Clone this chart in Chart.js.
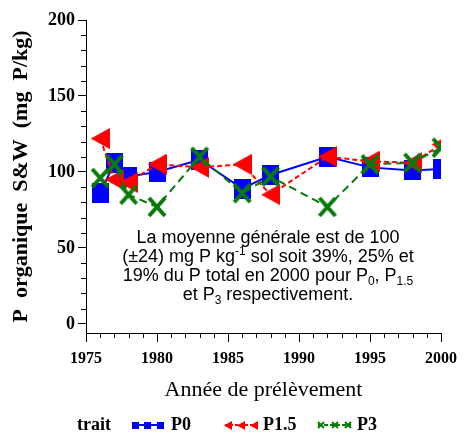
<!DOCTYPE html>
<html>
<head>
<meta charset="utf-8">
<script src="https://cdn.jsdelivr.net/npm/chart.js@4.4.0/dist/chart.umd.min.js"></script>
<style>
  html, body { margin: 0; padding: 0; background: #fff; }
  #wrap { width: 464px; height: 435px; }
</style>
</head>
<body>
<div id="wrap"><canvas id="myChart"></canvas></div>
<script>
// data
var years = [1976, 1977, 1978, 1980, 1983, 1986, 1988, 1992, 1995, 1998, 2000];
var p0  = [86, 106, 97, 100, 108, 89, 98, 110, 103, 101, 102];
var p15 = [122, 95, 93, 105, 103, 105, 85, 110, 107, 106, 118];
var p3  = [96, 105, 85, 77, 110, 86, 97, 77, 105, 106, 116];
var xTicks = [1975, 1980, 1985, 1990, 1995, 2000];
var yTicks = [0, 50, 100, 150, 200];
var xMinorStep = 1;
var yMinorStep = 10;

var serif = '"Liberation Serif", "Times New Roman", serif';
var sans = '"Liberation Sans", Arial, sans-serif';

function makeCanvas(w, h, draw) {
  var c = document.createElement('canvas');
  c.width = w; c.height = h;
  draw(c.getContext('2d'), w, h);
  return c;
}
function square(w, h, color) {
  return makeCanvas(w, h, function (g) { g.fillStyle = color; g.fillRect(0, 0, w, h); });
}
function triLeft(w, h, color) {
  return makeCanvas(w, h, function (g) {
    g.fillStyle = color;
    g.beginPath(); g.moveTo(0, h / 2); g.lineTo(w, 0); g.lineTo(w, h); g.closePath(); g.fill();
  });
}
function cross(w, h, color, lw) {
  return makeCanvas(w, h, function (g) {
    g.strokeStyle = color; g.lineWidth = lw; g.lineCap = 'butt';
    var m = lw / 2;
    g.beginPath();
    g.moveTo(m, m); g.lineTo(w - m, h - m);
    g.moveTo(w - m, m); g.lineTo(m, h - m);
    g.stroke();
  });
}

var blue = '#0000ff', red = '#ff0000', green = '#087a08';
var mkBlue = square(17, 20, blue);
var mkRed = triLeft(19, 21, red);
var mkGreen = cross(20, 22, green, 4);
var lgBlue = square(7, 7, blue);
var lgRed = triLeft(8, 9, red);
var lgGreen = cross(8, 8, green, 2);

function pts(vals) {
  return years.map(function (y, i) { return { x: y, y: vals[i] }; });
}

// note text, with sub/superscripts
var noteLines = [
  [['La moyenne générale est de 100', 0]],
  [['(±24) mg P kg', 0], ['-1', 1], [' sol soit 39%, 25% et', 0]],
  [['19% du P total en 2000 pour P', 0], ['0', -1], [', P', 0], ['1.5', -1]],
  [['et P', 0], ['3', -1], [' respectivement.', 0]]
];

var extras = {
  id: 'extras',
  afterDraw: function (chart) {
    var ctx = chart.ctx, xs = chart.scales.x, ys = chart.scales.y, area = chart.chartArea;
    ctx.save();
    ctx.strokeStyle = '#000';
    ctx.lineWidth = 1;
    var v, p;
    for (v = xTicks[0]; v <= xTicks[xTicks.length - 1]; v += xMinorStep) {
      if (xTicks.indexOf(v) >= 0) continue;
      p = Math.round(xs.getPixelForValue(v)) + 0.5;
      ctx.beginPath(); ctx.moveTo(p, area.bottom); ctx.lineTo(p, area.bottom + 5); ctx.stroke();
    }
    for (v = yTicks[0]; v <= yTicks[yTicks.length - 1]; v += yMinorStep) {
      if (yTicks.indexOf(v) >= 0) continue;
      p = Math.round(ys.getPixelForValue(v)) + 0.5;
      ctx.beginPath(); ctx.moveTo(area.left - 5, p); ctx.lineTo(area.left, p); ctx.stroke();
    }

    // note
    var big = '18px ' + sans, small = '12px ' + sans;
    ctx.fillStyle = '#000';
    ctx.textBaseline = 'alphabetic';
    ctx.textAlign = 'left';
    noteLines.forEach(function (line, i) {
      var w = 0;
      line.forEach(function (s) { ctx.font = s[1] ? small : big; w += ctx.measureText(s[0]).width; });
      var x = 268 - w / 2, y = 243 + i * 19;
      line.forEach(function (s) {
        ctx.font = s[1] ? small : big;
        var dy = s[1] > 0 ? -7 : (s[1] < 0 ? 4 : 0);
        ctx.fillText(s[0], x, y + dy);
        x += ctx.measureText(s[0]).width;
      });
    });

    // legend
    var ly = 425;
    ctx.font = 'bold 18px ' + serif;
    ctx.textBaseline = 'middle';
    ctx.fillText('trait', 77, ly);
    var items = [
      { x0: 132, x1: 163, color: blue, dash: [], mk: lgBlue, label: 'P0', tx: 171 },
      { x0: 225, x1: 257, color: red, dash: [3, 2], mk: lgRed, label: 'P1.5', tx: 263 },
      { x0: 318, x1: 351, color: green, dash: [4, 2], mk: lgGreen, label: 'P3', tx: 357 }
    ];
    items.forEach(function (it) {
      ctx.strokeStyle = it.color;
      ctx.lineWidth = 2;
      ctx.setLineDash(it.dash);
      ctx.beginPath(); ctx.moveTo(it.x0, ly); ctx.lineTo(it.x1, ly); ctx.stroke();
      ctx.setLineDash([]);
      [0, 0.5, 1].forEach(function (f) {
        var cx = it.x0 + 3 + f * (it.x1 - it.x0 - 6);
        ctx.drawImage(it.mk, Math.round(cx - it.mk.width / 2), Math.round(ly - it.mk.height / 2));
      });
      ctx.fillStyle = '#000';
      ctx.fillText(it.label, it.tx, ly);
    });
    ctx.restore();
  }
};

var ctx = document.getElementById('myChart').getContext('2d');
var chart = new Chart(ctx, {
  type: 'line',
  data: {
    datasets: [
      {
        label: 'P0', data: pts(p0), borderColor: blue, borderWidth: 2,
        pointStyle: mkBlue, order: 3
      },
      {
        label: 'P1.5', data: pts(p15), borderColor: red, borderWidth: 2,
        borderDash: [5, 3], pointStyle: mkRed, order: 2
      },
      {
        label: 'P3', data: pts(p3), borderColor: green, borderWidth: 2,
        borderDash: [8, 5], pointStyle: mkGreen, order: 1
      }
    ]
  },
  options: {
    responsive: true,
    maintainAspectRatio: false,
    animation: false,
    layout: { padding: { left: 0, top: 20, right: 17, bottom: 32 } },
    elements: { line: { tension: 0, fill: false } },
    plugins: { legend: { display: false }, tooltip: { enabled: false } },
    scales: {
      x: {
        type: 'linear', min: 1975, max: 2000,
        afterBuildTicks: function (s) { s.ticks = xTicks.map(function (v) { return { value: v }; }); },
        afterFit: function (s) { s.height = 70; },
        ticks: {
          color: '#000', padding: 7, maxRotation: 0,
          font: { family: serif, size: 16, weight: 'bold' },
          callback: function (v) { return String(v); }
        },
        grid: { drawOnChartArea: false, drawTicks: true, tickLength: 9, color: '#000' },
        border: { display: true, color: '#000', width: 1 },
        title: {
          display: true, text: 'Année de prélèvement', color: '#000',
          font: { family: serif, size: 22 }, padding: { top: 0, bottom: 0 }
        }
      },
      y: {
        type: 'linear', min: -6, max: 200,
        afterBuildTicks: function (s) { s.ticks = yTicks.map(function (v) { return { value: v }; }); },
        afterFit: function (s) { s.width = 86; },
        ticks: { color: '#000', padding: 3, font: { family: serif, size: 18, weight: 'bold' } },
        grid: { drawOnChartArea: false, drawTicks: true, tickLength: 8, color: '#000' },
        border: { display: true, color: '#000', width: 1 },
        title: {
          display: true, text: 'P  organique  S&W  (mg  P/kg)', color: '#000',
          font: { family: serif, size: 22, weight: 'bold' }, padding: { top: 8, bottom: 0 }
        }
      }
    }
  },
  plugins: [extras]
});
</script>
</body>
</html>
